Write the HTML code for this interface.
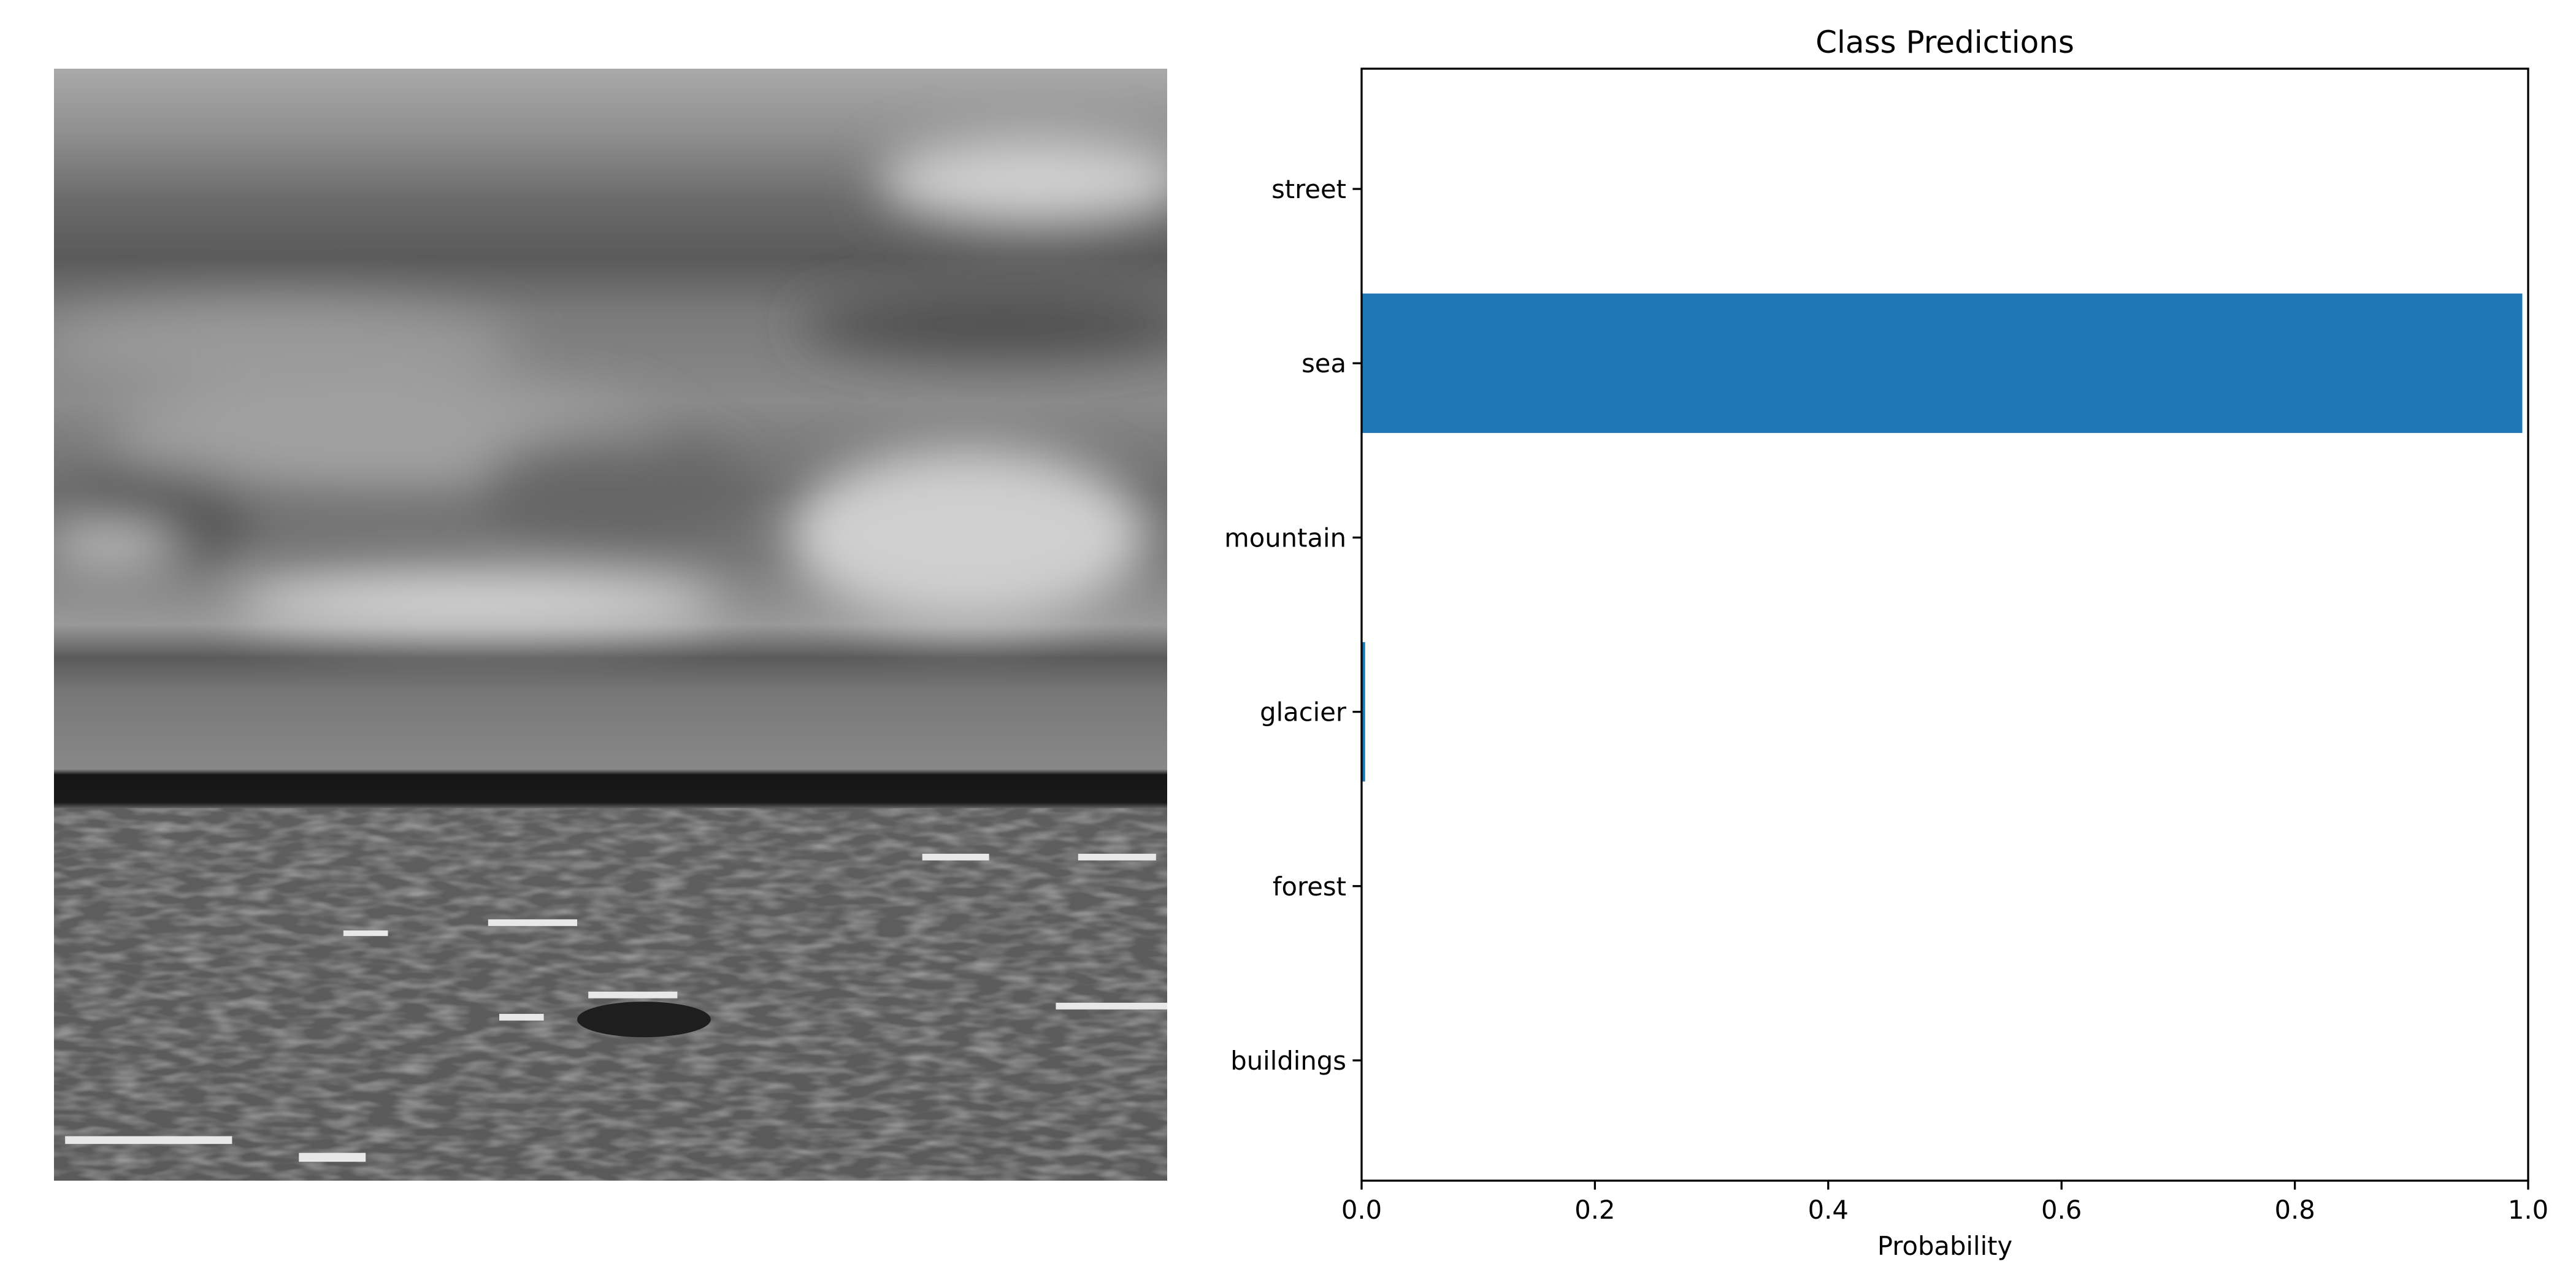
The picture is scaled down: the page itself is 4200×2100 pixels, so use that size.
<!DOCTYPE html>
<html><head><meta charset="utf-8"><style>
html,body{margin:0;padding:0;background:#fff;}
body{width:4200px;height:2100px;position:relative;overflow:hidden;font-family:"DejaVu Sans","Liberation Sans",sans-serif;}
</style></head><body>
<svg style="position:absolute;left:88px;top:112px" width="1815" height="1813" viewBox="0 0 100 100" preserveAspectRatio="none">
<defs>
<linearGradient id="sky" x1="0" y1="0" x2="0" y2="1">
<stop offset="0" stop-color="#a9a9a9"/><stop offset="0.06" stop-color="#8e8e8e"/>
<stop offset="0.12" stop-color="#6a6a6a"/><stop offset="0.17" stop-color="#5a5a5a"/>
<stop offset="0.22" stop-color="#7a7a7a"/><stop offset="0.3" stop-color="#8a8a8a"/>
<stop offset="0.38" stop-color="#6c6c6c"/><stop offset="0.44" stop-color="#777"/>
<stop offset="0.5" stop-color="#999"/><stop offset="0.53" stop-color="#5a5a5a"/>
<stop offset="0.56" stop-color="#777"/><stop offset="0.63" stop-color="#888"/>
<stop offset="0.635" stop-color="#151515"/><stop offset="0.66" stop-color="#1a1a1a"/>
<stop offset="0.665" stop-color="#5e5e5e"/><stop offset="1" stop-color="#5a5a5a"/>
</linearGradient>
<filter id="blur"><feGaussianBlur stdDeviation="2.2"/></filter>
<filter id="noise" x="0" y="0" width="1" height="1">
<feTurbulence type="fractalNoise" baseFrequency="0.35 1.2" numOctaves="2" seed="3"/>
<feColorMatrix type="matrix" values="0 0 0 0 0.5  0 0 0 0 0.5  0 0 0 0 0.5  0 0 0 1.2 -0.45"/>
</filter>
</defs>
<rect x="0" y="0" width="100" height="100" fill="url(#sky)"/>
<g filter="url(#blur)">
<ellipse cx="88" cy="10" rx="14" ry="4" fill="#d0d0d0"/>
<ellipse cx="20" cy="25" rx="22" ry="4" fill="#9a9a9a"/>
<ellipse cx="30" cy="33" rx="25" ry="5" fill="#a0a0a0"/>
<ellipse cx="10" cy="40" rx="8" ry="4" fill="#555"/>
<ellipse cx="85" cy="23" rx="18" ry="3" fill="#4e4e4e"/>
<ellipse cx="82" cy="42" rx="16" ry="8" fill="#cfcfcf"/>
<ellipse cx="38" cy="48" rx="22" ry="2.5" fill="#dadada"/>
<ellipse cx="5" cy="43" rx="6" ry="2" fill="#c0c0c0"/>
<ellipse cx="50" cy="38" rx="12" ry="5" fill="#666"/>
</g>
<rect x="0" y="66.5" width="100" height="33.5" filter="url(#noise)"/>
<g fill="#e8e8e8">
<rect x="78" y="70.6" width="6" height="0.6"/><rect x="92" y="70.6" width="7" height="0.6"/>
<rect x="39" y="76.5" width="8" height="0.6"/><rect x="26" y="77.5" width="4" height="0.5"/>
<rect x="48" y="83" width="8" height="0.6"/><rect x="40" y="85" width="4" height="0.6"/>
<rect x="90" y="84" width="10" height="0.6"/><rect x="1" y="96" width="15" height="0.7"/>
<rect x="22" y="97.5" width="6" height="0.8"/>
</g>
<ellipse cx="53" cy="85.5" rx="6" ry="1.6" fill="#1e1e1e"/>
</svg>

<svg style="position:absolute;left:0;top:0" width="4200" height="2100">
<text x="3171" y="86" font-size="50" text-anchor="middle" font-family="DejaVu Sans, Liberation Sans, sans-serif">Class Predictions</text>
<g id="plot"></g>
<text x="3171" y="2046" font-size="41.7" text-anchor="middle" font-family="DejaVu Sans, Liberation Sans, sans-serif">Probability</text>
</svg>
<script>
const categories = ["buildings","forest","glacier","mountain","sea","street"];
const probabilities = [0.0, 0.0, 0.003, 0.0, 0.995, 0.0];
const xTicks = [0.0, 0.2, 0.4, 0.6, 0.8, 1.0];
const xTickLabels = ["0.0","0.2","0.4","0.6","0.8","1.0"];

const L=2220, R=4122, T=112, B=1925;
const yMin=-0.69, yMax=5.69;
const xs = v => L + v*(R-L);
const ys = v => B - (v-yMin)/(yMax-yMin)*(B-T);
const NS="http://www.w3.org/2000/svg";
const g=document.getElementById('plot');
function mk(tag, attrs){const e=document.createElementNS(NS,tag);for(const k in attrs)e.setAttribute(k,attrs[k]);g.appendChild(e);return e;}
const bh = 0.8*(B-T)/(yMax-yMin);
categories.forEach((c,i)=>{
  const w = xs(probabilities[i])-xs(0);
  const bar = mk('rect',{x:xs(0),y:ys(i)-bh/2,width:Math.max(w,0),height:bh,fill:'#1f77b4'});
  
  
  const tk = mk('line',{x1:L,x2:L-14.6,y1:ys(i),y2:ys(i),stroke:'#000','stroke-width':3.3});
  
  
  const lb = mk('text',{x:L-25,y:ys(i)+15,'font-size':41.7,'text-anchor':'end','font-family':'DejaVu Sans, Liberation Sans, sans-serif'});
  lb.textContent=c;
  
  
});
xTicks.forEach((v,i)=>{
  const tk = mk('line',{x1:xs(v),x2:xs(v),y1:B,y2:B+14.6,stroke:'#000','stroke-width':3.3});
  
  
  const lb = mk('text',{x:xs(v),y:B+62,'font-size':41.7,'text-anchor':'middle','font-family':'DejaVu Sans, Liberation Sans, sans-serif'});
  lb.textContent=xTickLabels[i];
  
  
});
const frame = mk('rect',{x:L,y:T,width:R-L,height:B-T,fill:'none',stroke:'#000','stroke-width':3.3});


</script>
</body></html>
